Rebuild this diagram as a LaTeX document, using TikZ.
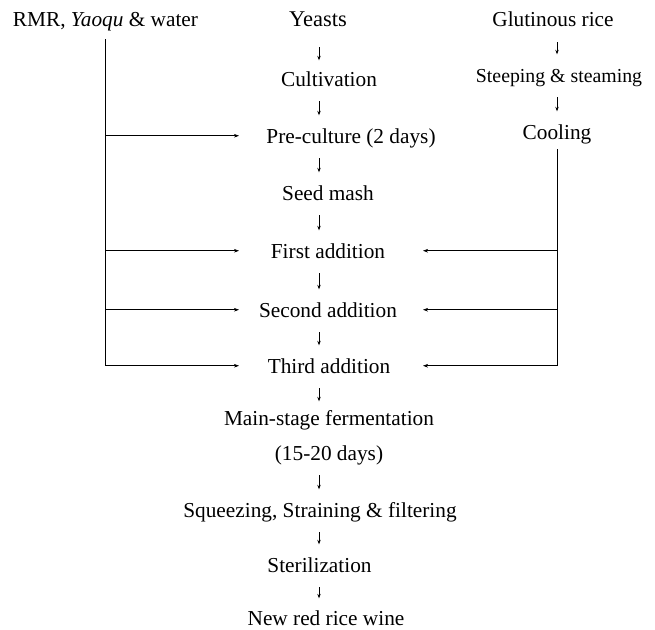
\documentclass[tikz,border=0pt]{standalone}
\usepackage{fontspec}
\setmainfont{Liberation Serif}
\usetikzlibrary{arrows.meta}
\begin{document}
\begin{tikzpicture}[x=1pt,y=-1pt,
  lab/.style={anchor=base, inner sep=0pt, text height=14.5pt, text depth=0pt,
              font=\fontsize{21.3}{25}\selectfont},
  bigl/.style={lab, text height=15pt, font=\fontsize{22.5}{26}\selectfont},
  ln/.style={line width=0.65pt, black},
  tick/.style={ln, -{Stealth[length=4.5pt,width=3.4pt]}, shorten <=15pt, shorten >=13pt},
  harr/.style={ln, -{Stealth[length=5pt,width=3.6pt]}}]
\useasboundingbox (0,0) rectangle (655,629);
% column guide coordinates
\coordinate (ax) at (319,0);
\coordinate (rx) at (557,0);
\coordinate (spineL) at (105,0);
\coordinate (spineR) at (557,0);
\coordinate (tipL) at (239,0);
\coordinate (tipR) at (423,0);
% left source
\node[lab] (rmr) at (105.5,27) {RMR, \textit{Yaoqu} \& water};
% middle column
\node[bigl] (yeast) at (318,27) {Yeasts};
\node[lab] (cult) at (329,86) {Cultivation};
\node[lab] (pre) at (351,143) {Pre-culture (2 days)};
\node[lab] (seed) at (328,200) {Seed mash};
\node[lab] (first) at (328,258) {First addition};
\node[lab] (second) at (328,317) {Second addition};
\node[lab] (third) at (329,373) {Third addition};
\node[lab] (main) at (329,425) {Main-stage fermentation};
\node[lab] (days) at (329,460) {(15-20 days)};
\node[lab] (squeeze) at (320,517) {Squeezing, Straining \& filtering};
\node[lab] (steril) at (319.5,572) {Sterilization};
\node[lab] (wine) at (326,625) {New red rice wine};
% right column
\node[lab] (rice) at (553,27) {Glutinous rice};
\node[lab, font=\fontsize{19.8}{24}\selectfont] (steep) at (559,82) {Steeping \& steaming};
\node[lab] (cool) at (557,139) {Cooling};
% middle arrows
\draw[tick, shorten <=20pt, shorten >=11pt] (yeast.south -| ax) -- (cult.north -| ax);
\draw[tick] (cult.south -| ax) -- (pre.north -| ax);
\draw[tick] (pre.south -| ax) -- (seed.north -| ax);
\draw[tick] (seed.south -| ax) -- (first.north -| ax);
\draw[tick] (first.south -| ax) -- (second.north -| ax);
\draw[tick] (second.south -| ax) -- (third.north -| ax);
\draw[tick, shorten >=9pt] (third.south -| ax) -- (main.north -| ax);
\draw[tick] (days.south -| ax) -- (squeeze.north -| ax);
\draw[tick] (squeeze.south -| ax) -- (steril.north -| ax);
\draw[tick, shorten >=12pt] (steril.south -| ax) -- (wine.north -| ax);
% right arrows
\draw[tick] (rice.south -| rx) -- (steep.north -| rx);
\draw[tick] (steep.south -| rx) -- (cool.north -| rx);
% left feed line
\draw[ln, shorten <=12pt] (spineL |- rmr.south) -- (spineL |- third.center);
\draw[harr] (spineL |- pre.center) -- (tipL |- pre.center);
\draw[harr] (spineL |- first.center) -- (tipL |- first.center);
\draw[harr] (spineL |- second.center) -- (tipL |- second.center);
\draw[harr] (spineL |- third.center) -- (tipL |- third.center);
% right feed line
\draw[ln, shorten <=10pt] (spineR |- cool.south) -- (spineR |- third.center);
\draw[harr] (spineR |- first.center) -- (tipR |- first.center);
\draw[harr] (spineR |- second.center) -- (tipR |- second.center);
\draw[harr] (spineR |- third.center) -- (tipR |- third.center);
\end{tikzpicture}
\end{document}
